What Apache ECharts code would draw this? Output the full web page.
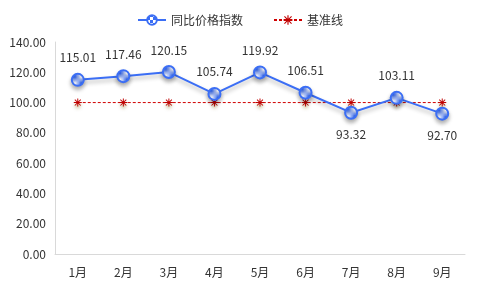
<!DOCTYPE html>
<html><head><meta charset="utf-8">
<script src="https://cdn.jsdelivr.net/npm/echarts@6/dist/echarts.min.js"></script>
<style>html,body{margin:0;padding:0;background:#fff}#c{width:480px;height:297px}</style>
</head><body><div id="c"></div>
<script>
var categories = ['1月','2月','3月','4月','5月','6月','7月','8月','9月'];
var indexValues = [115.01,117.46,120.15,105.74,119.92,106.51,93.32,103.11,92.70];
var baseValues = [100,100,100,100,100,100,100,100,100];
var seriesNames = ['同比价格指数','基准线'];

var pc = document.createElement('canvas');
pc.width = 6; pc.height = 6;
var g = pc.getContext('2d');
g.fillStyle = '#ffffff'; g.fillRect(0,0,6,6);
g.fillStyle = '#3b6ef5'; g.fillRect(0,0,3,3); g.fillRect(3,3,3,3);

var star = 'path://M4.4,0H5.6V10H4.4Z M0.9,1.7L1.7,0.9L9.1,8.3L8.3,9.1Z M8.3,0.9L9.1,1.7L1.7,9.1L0.9,8.3Z M0,4.4H10V5.6H0Z';

var chart = echarts.init(document.getElementById('c'));
var font = '"Microsoft YaHei","Noto Sans CJK SC",sans-serif';
chart.setOption({
  animation:false,
  textStyle:{fontFamily:font},
  legend:{top:9, left:'center', itemGap:30, itemWidth:28, itemHeight:12,
    textStyle:{fontSize:12,color:'#333',fontFamily:font},
    data:[{name:seriesNames[0]},{name:seriesNames[1]}]},
  grid:{left:55,right:15,top:42,bottom:43},
  xAxis:{type:'category',data:categories,boundaryGap:true,
    axisLine:{lineStyle:{color:'#d9d9d9'}},axisTick:{show:false},
    axisLabel:{color:'#333',fontSize:12,margin:12,fontFamily:font}},
  yAxis:{type:'value',min:0,max:140,interval:20,
    axisLine:{show:true,lineStyle:{color:'#d9d9d9'}},axisTick:{show:false},
    splitLine:{show:false},
    axisLabel:{color:'#333',fontSize:12,margin:9,formatter:function(v){return v.toFixed(2);},fontFamily:font}},
  series:[
    {name:seriesNames[0],type:'line',data:indexValues,symbol:'circle',symbolSize:12,z:3,
      lineStyle:{color:'#3b6ef5',width:2,shadowColor:'rgba(0,0,0,0.3)',shadowBlur:4,shadowOffsetY:3},
      itemStyle:{color:{image:pc,repeat:'repeat'},borderColor:'#3b6ef5',borderWidth:2,
        shadowColor:'rgba(0,0,0,0.3)',shadowBlur:4,shadowOffsetY:3},
      label:{show:true,fontSize:12,color:'#333',distance:9,fontFamily:font,
        formatter:function(p){return p.value.toFixed(2);},
        position:'top'},
      labelLayout:null,
      emphasis:{disabled:true}
    },
    {name:seriesNames[1],type:'line',data:baseValues,symbol:star,symbolSize:8,z:2,
      lineStyle:{color:'#d00000',width:1,type:[3,2]},
      itemStyle:{color:'#c00000',shadowColor:'rgba(120,100,0,0.35)',shadowBlur:3,shadowOffsetY:3},
      emphasis:{disabled:true}
    }
  ]
});
// bottom labels for points below baseline
var opt = chart.getOption();
var d = indexValues.map(function(v,i){
  var below = (i===6||i===8);
  return {value:v,label:{position:below?'bottom':'top'}};
});
chart.setOption({series:[{data:d},{}]});
</script></body></html>
